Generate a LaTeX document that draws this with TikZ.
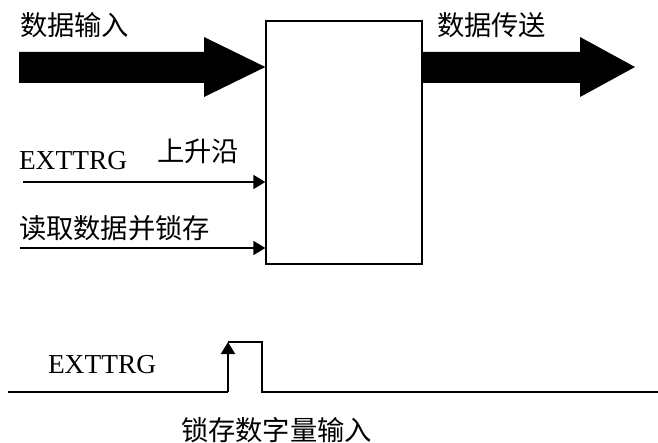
\documentclass[tikz,border=0pt]{standalone}
\usepackage{fontspec}
\setmainfont{Liberation Serif}
\newfontfamily\cjk{Noto Sans CJK SC}
\usetikzlibrary{arrows.meta,calc}
\begin{document}
\begin{tikzpicture}[x=1pt,y=-1pt,
  lbl/.style={inner sep=0pt,outer sep=0pt,anchor=base west,font=\fontsize{27.3}{30}\selectfont\cjk},
  latin/.style={inner sep=0pt,outer sep=0pt,anchor=base west,font=\fontsize{27.4}{30}\selectfont},
  sig/.style={line width=1.7pt,-{Triangle[length=12pt,width=14pt]}},
  wire/.style={line width=1.5pt}]
\useasboundingbox (0,0) rectangle (658,443);
% central block
\node[draw,line width=1.3pt,minimum width=156pt,minimum height=243pt,inner sep=0pt] (box) at (344,142.5) {};
% big arrows
\coordinate (inTip) at (box.west |- 0,67);
\coordinate (outStart) at (box.east |- 0,67);
\fill (19,52) -- (204,52) -- (204,37) -- (inTip) -- (204,97) -- (204,83) -- (19,83) -- cycle;
\fill ($(outStart)+(0,-15)$) -- (580,52) -- (580,37) -- (635,67) -- (580,97) -- (580,83) -- ($(outStart)+(0,16)$) -- cycle;
% labels
\node[lbl] (t1) at (20,35.5) {数据输入};
\node[lbl] (t2) at (437,35.5) {数据传送};
\node[latin] (t3) at (19,170) {EXTTRG};
\node[lbl] (t4) at (157,161.5) {上升沿};
\node[lbl] (t5) at (19,238.5) {读取数据并锁存};
% input signal arrows
\coordinate (a1) at (23,182);
\coordinate (a2) at (20,248);
\draw[sig] (a1) -- (box.west |- a1);
\draw[sig] (a2) -- (box.west |- a2);
% timing diagram
\coordinate (b0) at (8,392);
\coordinate (r0) at (228,392);
\coordinate (r1) at (228,342);
\coordinate (f1) at (262,342);
\coordinate (f0) at (262,392);
\coordinate (b1) at (658,392);
\draw[wire] (b0) -- (r0);
\draw[wire] (r1) -- (f1) -- (f0) -- (b1);
\draw[sig,line width=1.9pt] (r0) -- (r1);
\node[latin] (t6) at (48,373) {EXTTRG};
\node[lbl] (t7) at (181,440.5) {锁存数字量输入};
\end{tikzpicture}
\end{document}
